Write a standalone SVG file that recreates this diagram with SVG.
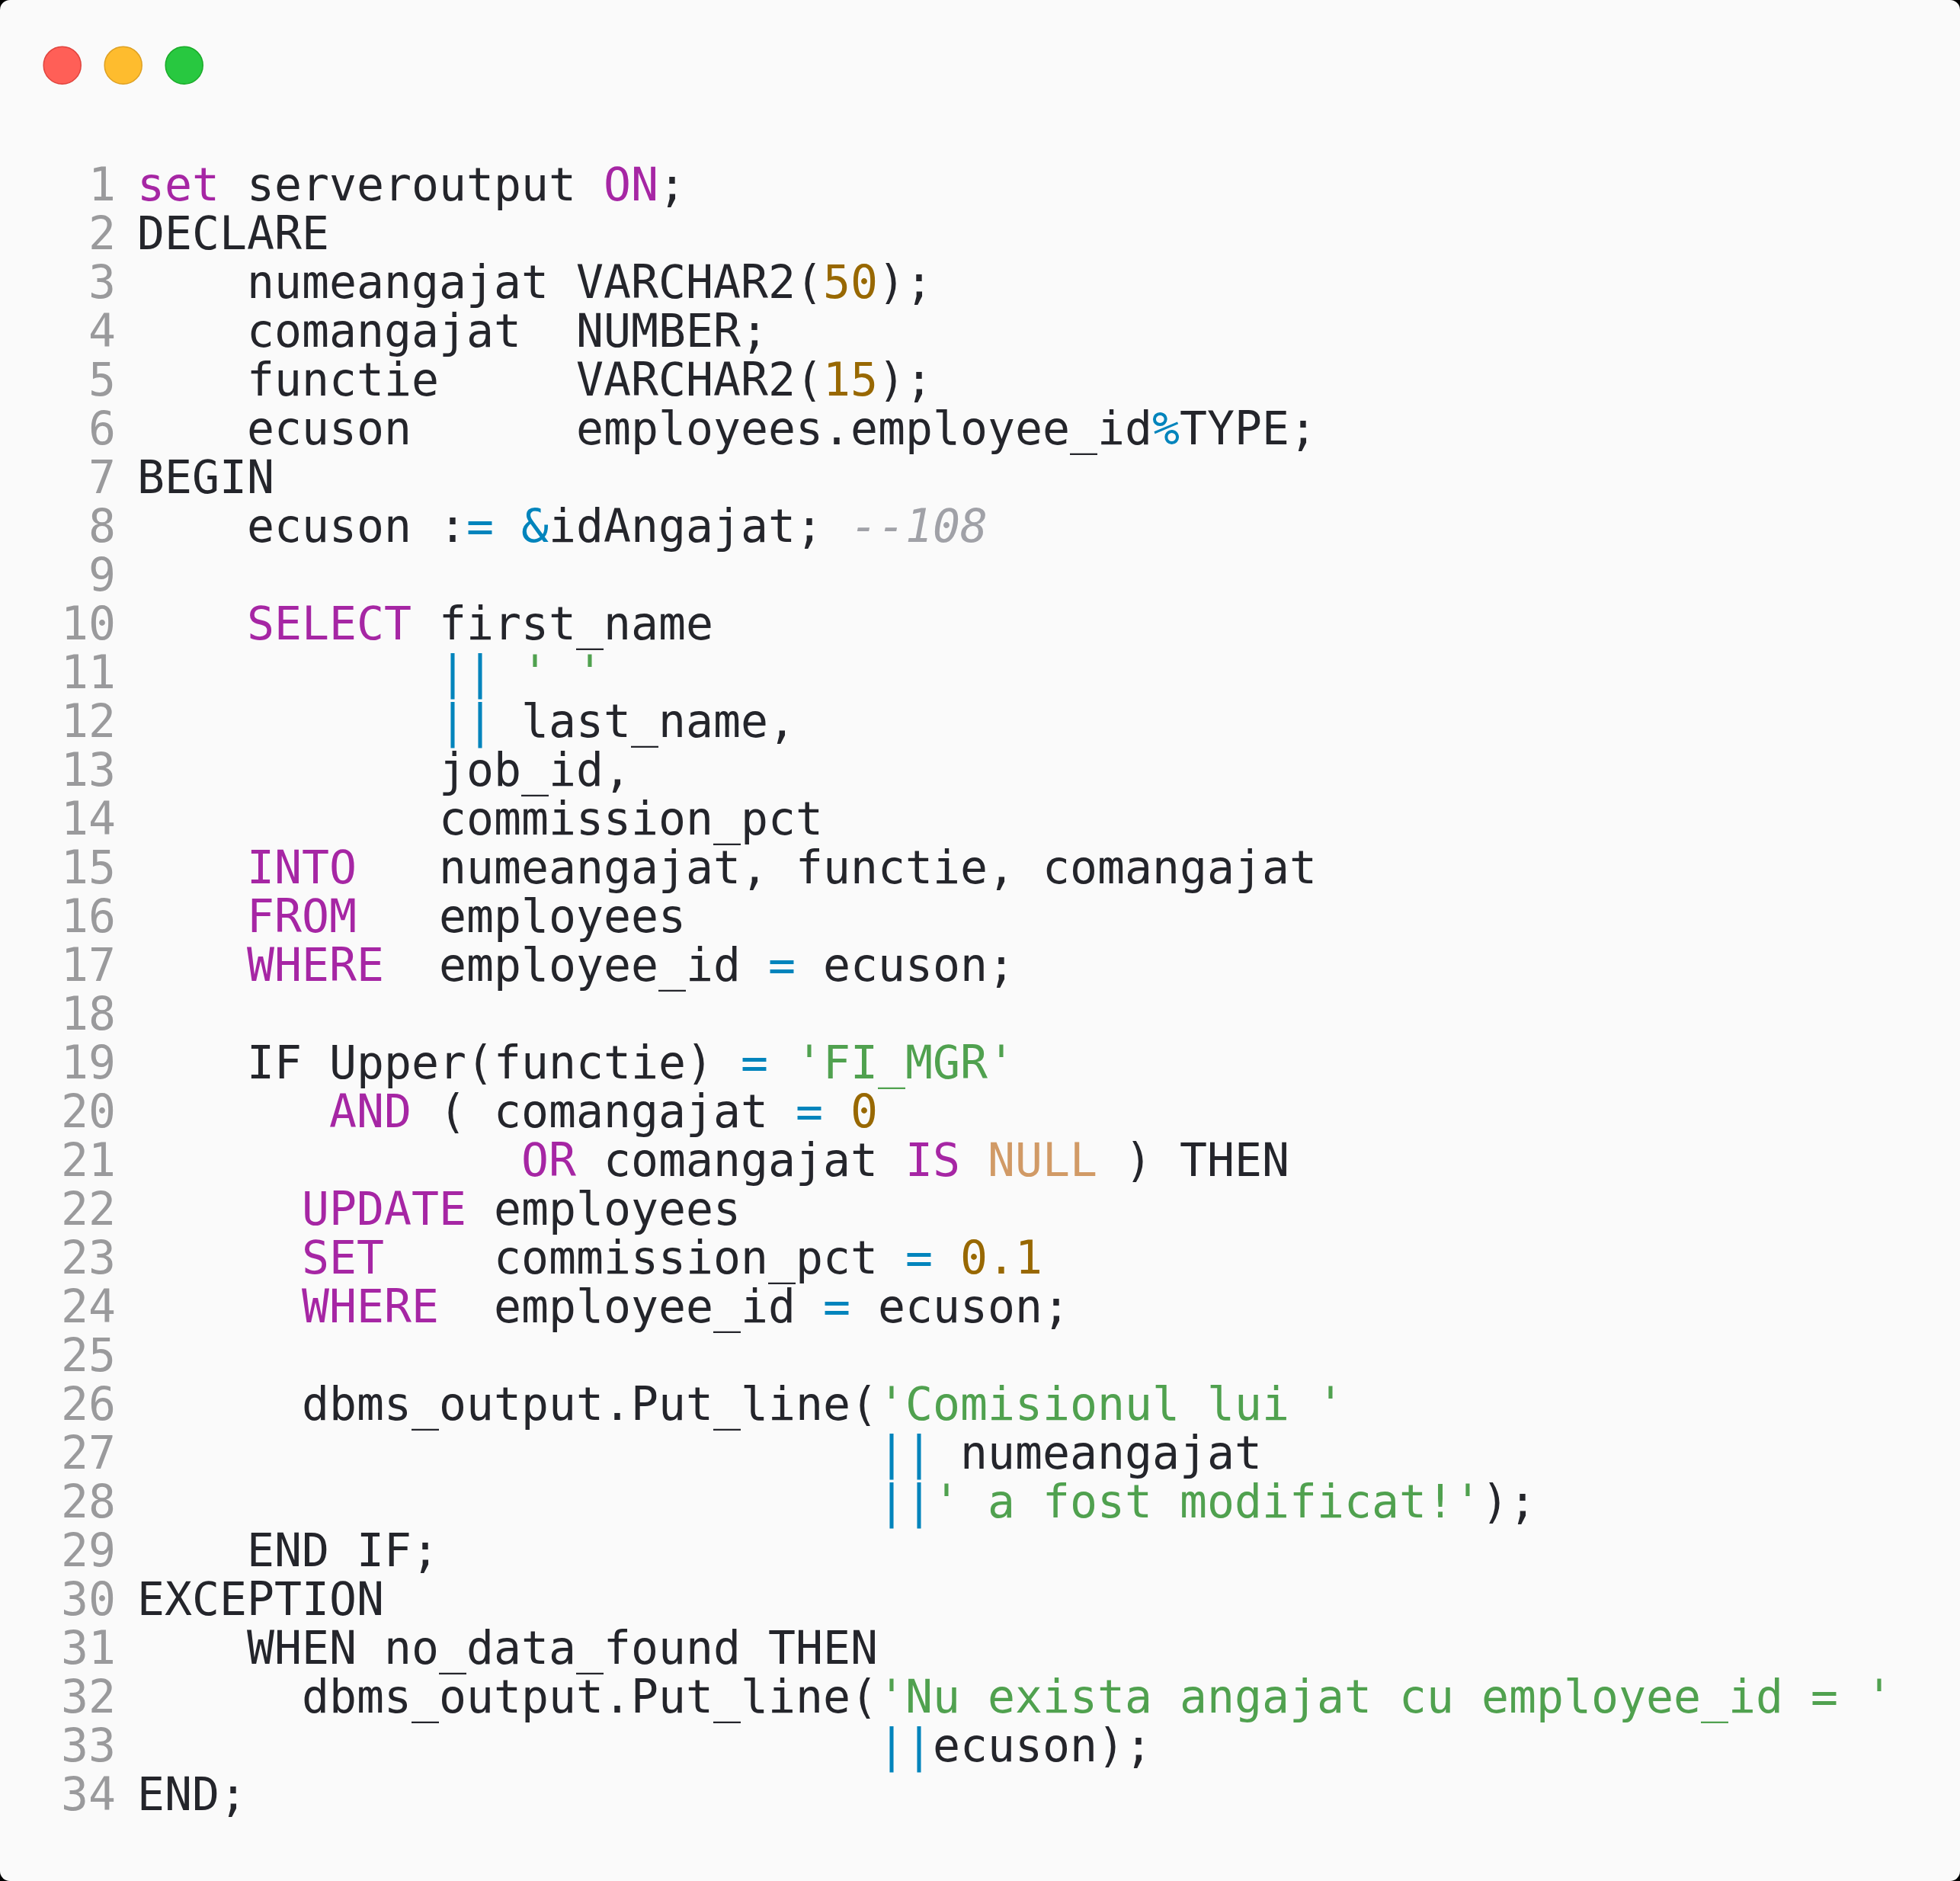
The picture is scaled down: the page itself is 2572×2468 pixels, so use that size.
<svg xmlns="http://www.w3.org/2000/svg" width="2572" height="2468" viewBox="0 0 2572 2468">
<style>
text{font-family:"DejaVu Sans Mono","Liberation Mono",monospace;font-size:59.8px;white-space:pre}
.c{fill:#24252b}
.n{fill:#9a9a9c}
.k{fill:#a626a4}
.s{fill:#50a14f}
.d{fill:#986801}
.o{fill:#0184bc}
.l{fill:#d19a66}
.m{fill:#a0a1a7;font-style:italic}
</style>
<rect x="0" y="0" width="2572" height="2468" fill="#000"/>
<g id="window">
<rect x="0" y="0" width="2572" height="2468" rx="13" fill="#fafafa"/>
<circle cx="81.7" cy="85.7" r="24.5" fill="#ff5f57" stroke="#e0443e" stroke-width="1.5"/>
<circle cx="161.7" cy="85.7" r="24.5" fill="#febc2e" stroke="#dea123" stroke-width="1.5"/>
<circle cx="241.7" cy="85.7" r="24.5" fill="#28c840" stroke="#1aab29" stroke-width="1.5"/>
</g>
<g id="line-numbers" class="n" text-anchor="end">
<text x="152" y="262.5">1</text>
<text x="152" y="326.5">2</text>
<text x="152" y="390.5">3</text>
<text x="152" y="454.5">4</text>
<text x="152" y="518.5">5</text>
<text x="152" y="582.5">6</text>
<text x="152" y="646.5">7</text>
<text x="152" y="710.5">8</text>
<text x="152" y="774.5">9</text>
<text x="152" y="838.5">10</text>
<text x="152" y="902.5">11</text>
<text x="152" y="966.5">12</text>
<text x="152" y="1030.5">13</text>
<text x="152" y="1094.5">14</text>
<text x="152" y="1158.5">15</text>
<text x="152" y="1222.5">16</text>
<text x="152" y="1286.5">17</text>
<text x="152" y="1350.5">18</text>
<text x="152" y="1414.5">19</text>
<text x="152" y="1478.5">20</text>
<text x="152" y="1542.5">21</text>
<text x="152" y="1606.5">22</text>
<text x="152" y="1670.5">23</text>
<text x="152" y="1734.5">24</text>
<text x="152" y="1798.5">25</text>
<text x="152" y="1862.5">26</text>
<text x="152" y="1926.5">27</text>
<text x="152" y="1990.5">28</text>
<text x="152" y="2054.5">29</text>
<text x="152" y="2118.5">30</text>
<text x="152" y="2182.5">31</text>
<text x="152" y="2246.5">32</text>
<text x="152" y="2310.5">33</text>
<text x="152" y="2374.5">34</text>
</g>
<g id="code" class="c" xml:space="preserve">
<text x="180" y="262.5"><tspan class="k">set</tspan> serveroutput <tspan class="k">ON</tspan>;</text>
<text x="180" y="326.5">DECLARE</text>
<text x="180" y="390.5">    numeangajat VARCHAR2(<tspan class="d">50</tspan>);</text>
<text x="180" y="454.5">    comangajat  NUMBER;</text>
<text x="180" y="518.5">    functie     VARCHAR2(<tspan class="d">15</tspan>);</text>
<text x="180" y="582.5">    ecuson      employees.employee_id<tspan class="o">%</tspan>TYPE;</text>
<text x="180" y="646.5">BEGIN</text>
<text x="180" y="710.5">    ecuson :<tspan class="o">=</tspan> <tspan class="o">&amp;</tspan>idAngajat; <tspan class="m">--108</tspan></text>
<text x="180" y="838.5">    <tspan class="k">SELECT</tspan> first_name</text>
<text x="180" y="902.5">           <tspan class="o">||</tspan> <tspan class="s">' '</tspan></text>
<text x="180" y="966.5">           <tspan class="o">||</tspan> last_name,</text>
<text x="180" y="1030.5">           job_id,</text>
<text x="180" y="1094.5">           commission_pct</text>
<text x="180" y="1158.5">    <tspan class="k">INTO</tspan>   numeangajat, functie, comangajat</text>
<text x="180" y="1222.5">    <tspan class="k">FROM</tspan>   employees</text>
<text x="180" y="1286.5">    <tspan class="k">WHERE</tspan>  employee_id <tspan class="o">=</tspan> ecuson;</text>
<text x="180" y="1414.5">    IF Upper(functie) <tspan class="o">=</tspan> <tspan class="s">'FI_MGR'</tspan></text>
<text x="180" y="1478.5">       <tspan class="k">AND</tspan> ( comangajat <tspan class="o">=</tspan> <tspan class="d">0</tspan></text>
<text x="180" y="1542.5">              <tspan class="k">OR</tspan> comangajat <tspan class="k">IS</tspan> <tspan class="l">NULL</tspan> ) THEN</text>
<text x="180" y="1606.5">      <tspan class="k">UPDATE</tspan> employees</text>
<text x="180" y="1670.5">      <tspan class="k">SET</tspan>    commission_pct <tspan class="o">=</tspan> <tspan class="d">0.1</tspan></text>
<text x="180" y="1734.5">      <tspan class="k">WHERE</tspan>  employee_id <tspan class="o">=</tspan> ecuson;</text>
<text x="180" y="1862.5">      dbms_output.Put_line(<tspan class="s">'Comisionul lui '</tspan></text>
<text x="180" y="1926.5">                           <tspan class="o">||</tspan> numeangajat</text>
<text x="180" y="1990.5">                           <tspan class="o">||</tspan><tspan class="s">' a fost modificat!'</tspan>);</text>
<text x="180" y="2054.5">    END IF;</text>
<text x="180" y="2118.5">EXCEPTION</text>
<text x="180" y="2182.5">    WHEN no_data_found THEN</text>
<text x="180" y="2246.5">      dbms_output.Put_line(<tspan class="s">'Nu exista angajat cu employee_id = '</tspan></text>
<text x="180" y="2310.5">                           <tspan class="o">||</tspan>ecuson);</text>
<text x="180" y="2374.5">END;</text>
</g>
</svg>
